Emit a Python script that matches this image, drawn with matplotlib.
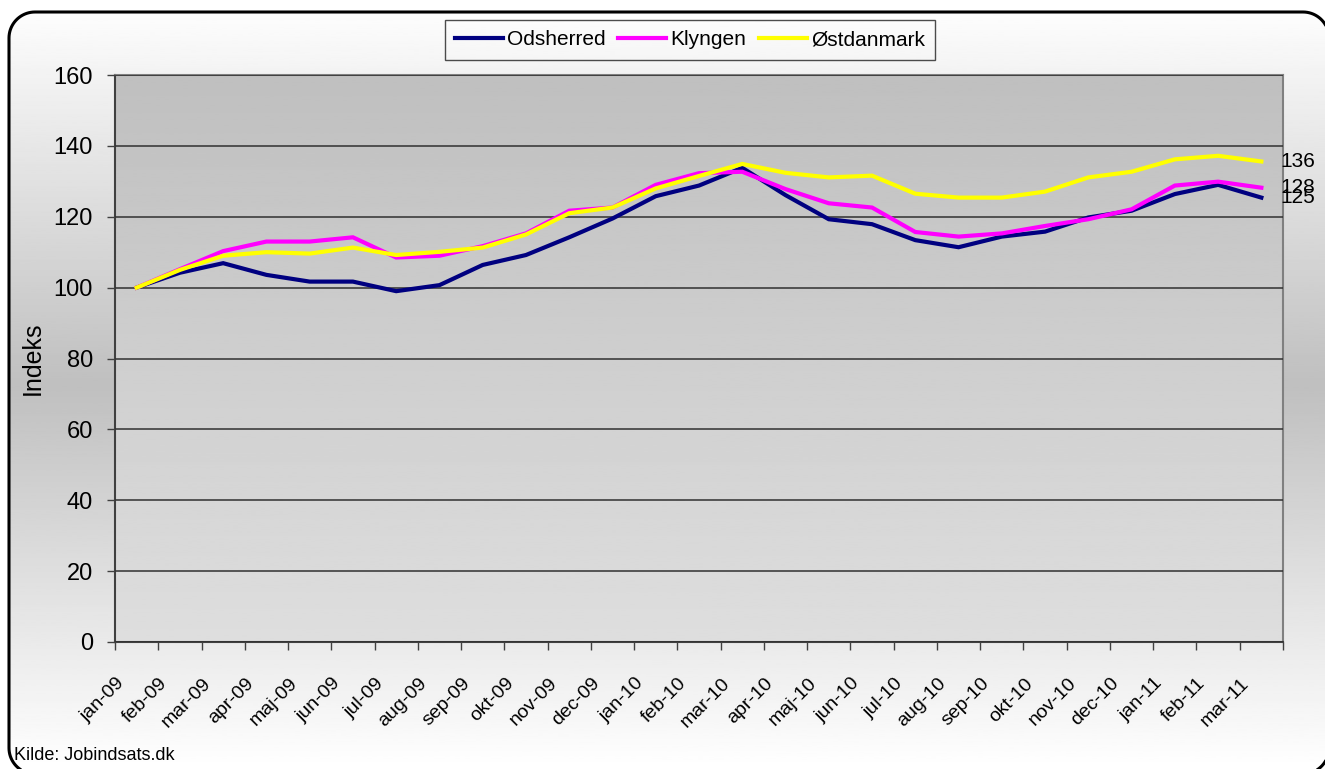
import numpy as np
import matplotlib
matplotlib.use('Agg')
import matplotlib.pyplot as plt
import matplotlib.transforms as mtransforms
from matplotlib.patches import Polygon

plt.rcParams['font.family'] = ['Liberation Sans', 'DejaVu Sans']

# -------------------------------
# data (index, jan-09 = 100)

months = ['jan-09', 'feb-09', 'mar-09', 'apr-09', 'maj-09', 'jun-09', 'jul-09', 'aug-09', 'sep-09',
          'okt-09', 'nov-09', 'dec-09', 'jan-10', 'feb-10', 'mar-10', 'apr-10', 'maj-10', 'jun-10',
          'jul-10', 'aug-10', 'sep-10', 'okt-10', 'nov-10', 'dec-10', 'jan-11', 'feb-11', 'mar-11']

odsherred = [100.0, 104.2, 106.9, 103.6, 101.7, 101.7, 99.0, 100.7, 106.4,
             109.2, 114.2, 119.5, 125.8, 128.8, 133.8, 126.1, 119.3, 117.9,
             113.4, 111.4, 114.4, 115.8, 119.8, 121.7, 126.4, 129.0, 125.4]

klyngen = [100.0, 105.2, 110.3, 113.0, 113.0, 114.2, 108.5, 109.0, 111.7,
           115.3, 121.7, 122.6, 129.0, 132.3, 132.7, 127.8, 123.8, 122.6,
           115.7, 114.4, 115.3, 117.4, 119.3, 122.1, 128.8, 129.9, 128.2]

ostdanmark = [100.0, 105.0, 109.0, 110.0, 109.6, 111.3, 109.2, 110.1, 111.3,
              115.0, 121.0, 122.6, 128.0, 131.5, 134.9, 132.4, 131.1, 131.6,
              126.5, 125.4, 125.4, 127.1, 131.1, 132.7, 136.2, 137.2, 135.6]

series_names = ['Odsherred', 'Klyngen', 'Østdanmark']
series_colors = ['#000080', '#ff00ff', '#ffff00']

W, H = 1325, 769
fig = plt.figure(figsize=(W/100, H/100), dpi=100)

# -------------------------------
# outer chart area: rounded frame with white-gray-white gradient

bg = fig.add_axes([0, 0, 1, 1], zorder=-10)
bg.set_xlim(0, W)
bg.set_ylim(0, H)
bg.axis('off')
yy = np.linspace(0, 1, 400)[:, None]
shade = 1.0 - 0.25*(1 - np.abs(2*yy - 1))
img = bg.imshow(shade, extent=[0, W, 0, H], aspect='auto', cmap='gray', vmin=0, vmax=1, zorder=0)

# rounded rectangle outline (pixels), built from arc points
x0, x1, y0, y1, r = 9, 1329, H-774, H-12, 26
pts = []
for cx, cy, a0 in [(x1-r, y1-r, 0), (x0+r, y1-r, 90), (x0+r, y0+r, 180), (x1-r, y0+r, 270)]:
    ang = np.radians(np.linspace(a0, a0+90, 20))
    pts += list(zip(cx + r*np.cos(ang), cy + r*np.sin(ang)))
frame = Polygon(pts, closed=True, facecolor='none', edgecolor='black', lw=2.2, zorder=2)
bg.add_patch(frame)
img.set_clip_path(frame)

# -------------------------------
# plot area

ax = fig.add_axes([115/W, 1-642/H, (1283-115)/W, (642-75)/H])
ax.imshow(np.linspace(0.75, 0.87, 200)[:, None], extent=[0, 1, 0, 1], transform=ax.transAxes,
          aspect='auto', cmap='gray', vmin=0, vmax=1, zorder=0)

x = np.arange(len(months))
data = [odsherred, klyngen, ostdanmark]
for vals, name, col in zip(data, series_names, series_colors):
    ax.plot(x, vals, color=col, lw=3.0, label=name, zorder=3, solid_joinstyle='miter')
    ax.annotate('%d' % round(vals[-1]), xy=(x[-1], vals[-1]), xytext=(14, 0),
                textcoords='offset points', va='center', ha='left', fontsize=15,
                annotation_clip=False)

ax.set_xlim(-0.5, len(months)-0.5)
ax.set_ylim(0, 160)
ax.set_yticks(np.arange(0, 161, 20))
ax.yaxis.grid(True, color='#303030', lw=1.1, zorder=1)
ax.set_axisbelow(False)
ax.tick_params(axis='y', direction='out', length=6, width=1, color='#404040', pad=10, labelsize=17)

ax.set_xticks(x)
ax.set_xticklabels(months, rotation=45, ha='right', va='center', rotation_mode='anchor', fontsize=14)
ax.set_xticks(np.arange(len(months)+1)-0.5, minor=True)
ax.tick_params(axis='x', which='major', length=0, pad=28)
ax.tick_params(axis='x', which='minor', direction='out', length=6, width=1, color='#404040')
shift = mtransforms.ScaledTranslation(-15/100, 0, fig.dpi_scale_trans)
for lab in ax.get_xticklabels():
    lab.set_transform(lab.get_transform() + shift)

for side in ['left', 'bottom']:
    ax.spines[side].set_color('#404040')
    ax.spines[side].set_linewidth(1.5)
for side in ['top', 'right']:
    ax.spines[side].set_color('#808080')
    ax.spines[side].set_linewidth(1.5)

ax.set_ylabel('Indeks', fontsize=18, labelpad=6)

fig.legend(loc='upper center', bbox_to_anchor=(690/W, 1-20/H), ncol=3, fontsize=15,
           frameon=True, fancybox=False, edgecolor='#202020', facecolor='none',
           handlelength=2.3, handletextpad=0.2, columnspacing=0.6, borderpad=0.5,
           borderaxespad=0)

fig.text(14/W, 1-756/H, 'Kilde: Jobindsats.dk', fontsize=13, va='center', ha='left')

plt.savefig('out.png', dpi=100)
plt.close('all')
